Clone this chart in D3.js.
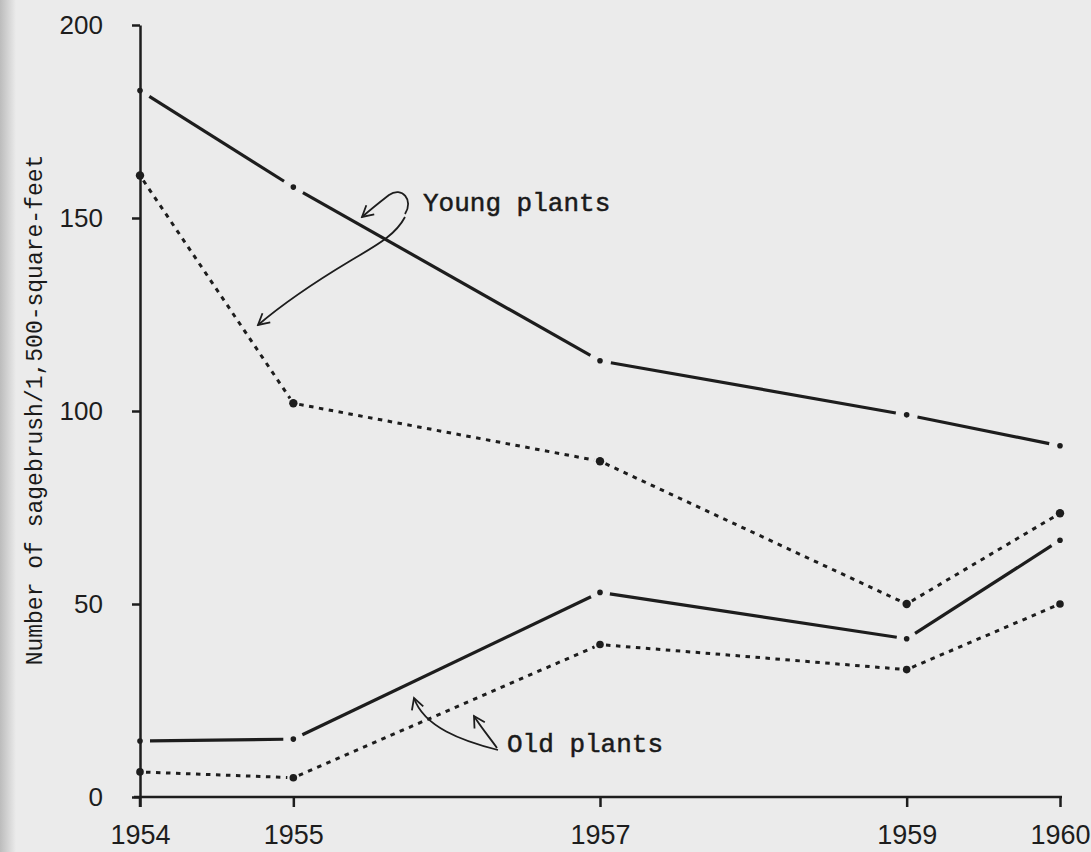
<!DOCTYPE html>
<html>
<head>
<meta charset="utf-8">
<script src="https://cdn.jsdelivr.net/npm/d3@7"></script>
<style>
  body { margin: 0; background: #ebebeb; }
  svg { display: block; }
  .axis path, .axis line { stroke: #1d1d1d; stroke-width: 2.5; }
  .axis text { font-family: "Liberation Sans", Arial, sans-serif; fill: #1d1d1d; }
  .note { font-family: "Liberation Mono", "DejaVu Sans Mono", monospace; fill: #1a1a1a; }
</style>
</head>
<body>
<div id="chart"></div>
<script>
// values (plants per 1,500 sq ft)
var years = [1954, 1955, 1957, 1959, 1960];
var youngSolid = [183, 158, 113, 99, 91];
var youngDotted = [161, 102, 87, 50, 73.5];
var oldSolid = [14.5, 15, 53, 41, 66.5];
var oldDotted = [6.5, 5, 39.5, 33, 50];
var yTicks = [0, 50, 100, 150, 200];
var yLabel = "Number of sagebrush/1,500-square-feet";

var width = 1091,
height = 852;

var svg = d3.select("#chart").append("svg")
  .attr("width", width)
  .attr("height", height);

// paper + darker scan edge on the left
var defs = svg.append("defs");
var grad = defs.append("linearGradient").attr("id", "edge");
grad.append("stop").attr("offset", "0%").attr("stop-color", "#bcbcbc");
grad.append("stop").attr("offset", "100%").attr("stop-color", "#ebebeb");
svg.append("rect").attr("width", width).attr("height", height).attr("fill", "#ebebeb");
svg.append("rect").attr("width", 16).attr("height", height).attr("fill", "url(#edge)");

var arrowHead = defs.append("marker")
  .attr("id", "head")
  .attr("viewBox", "-12 -8 14 16")
  .attr("markerWidth", 14)
  .attr("markerHeight", 16)
  .attr("markerUnits", "userSpaceOnUse")
  .attr("orient", "auto");
arrowHead.append("path")
  .attr("d", "M-11,-6 L0,0 L-11,6")
  .attr("fill", "none")
  .attr("stroke", "#1d1d1d")
  .attr("stroke-width", 1.8);

var x = d3.scaleLinear().domain([1954, 1960]).range([140, 1060]);
var y = d3.scaleLinear().domain([0, 200]).range([797, 25]);

// axes
svg.append("g")
  .attr("class", "axis")
  .attr("transform", "translate(" + x(1954) + ",0)")
  .call(d3.axisLeft(y).tickValues(yTicks).tickSize(8).tickSizeOuter(0).tickPadding(29))
  .call(function (g) {
    g.selectAll("text").style("font-size", "26px");
  });

svg.append("g")
  .attr("class", "axis")
  .attr("transform", "translate(0," + y(0) + ")")
  .call(d3.axisBottom(x).tickValues(years).tickFormat(d3.format("d")).tickSize(10).tickSizeOuter(0).tickPadding(18))
  .call(function (g) {
    g.select(".domain").attr("d", "M" + (x(1954) - 6) + ",0H" + (x(1960) + 2));
    g.selectAll("text").style("font-size", "27px");
  });

// y axis line runs a bit below the baseline
svg.append("line")
  .attr("x1", x(1954)).attr("x2", x(1954))
  .attr("y1", y(0)).attr("y2", y(0) + 10)
  .attr("stroke", "#1d1d1d").attr("stroke-width", 2.5);

svg.append("text")
  .attr("class", "note")
  .attr("transform", "translate(42,410) rotate(-90)")
  .attr("text-anchor", "middle")
  .style("font-size", "23px")
  .text(yLabel);

// series lines, drawn segment by segment with a gap at each plotted point
var series = [
  { values: youngSolid, dash: null, gap: 11, r: 2.8 },
  { values: youngDotted, dash: "4.5,5.5", gap: 6, r: 4.2 },
  { values: oldSolid, dash: null, gap: 10, r: 2.8 },
  { values: oldDotted, dash: "4.5,5.5", gap: 6, r: 3.8 }
];

function segments(vals, gap) {
  var out = [];
  for (var i = 0; i < vals.length - 1; i++) {
    var x1 = x(years[i]), y1 = y(vals[i]);
    var x2 = x(years[i + 1]), y2 = y(vals[i + 1]);
    var len = Math.sqrt((x2 - x1) * (x2 - x1) + (y2 - y1) * (y2 - y1));
    var ux = (x2 - x1) / len, uy = (y2 - y1) / len;
    out.push([x1 + ux * gap, y1 + uy * gap, x2 - ux * gap, y2 - uy * gap]);
  }
  return out;
}

series.forEach(function (s) {
  var g = svg.append("g");
  g.selectAll("line")
    .data(segments(s.values, s.gap))
    .enter()
    .append("line")
    .attr("x1", function (d) { return d[0]; })
    .attr("y1", function (d) { return d[1]; })
    .attr("x2", function (d) { return d[2]; })
    .attr("y2", function (d) { return d[3]; })
    .attr("stroke", "#1d1d1d")
    .attr("stroke-width", s.dash ? 3 : 3.2)
    .attr("stroke-dasharray", s.dash);

  g.selectAll("circle")
    .data(s.values)
    .enter()
    .append("circle")
    .attr("cx", function (d, i) { return x(years[i]); })
    .attr("cy", function (d) { return y(d); })
    .attr("r", s.r)
    .attr("fill", "#1d1d1d");
});

// hand-drawn call-outs
var notes = svg.append("g");

notes.append("text").attr("class", "note")
  .attr("x", 423).attr("y", 211)
  .style("font-size", "26px")
  .style("stroke", "#1a1a1a").style("stroke-width", 0.5)
  .text("Young plants");

notes.append("text").attr("class", "note")
  .attr("x", 507).attr("y", 752)
  .style("font-size", "26px")
  .style("stroke", "#1a1a1a").style("stroke-width", 0.5)
  .text("Old plants");

var callouts = [
  "M405,214 C414,200 402,186 389,195 C380,202 370,210 362,217",
  "M405,217 C395,236 375,246 350,261 C320,279 285,302 258,325",
  "M498,750 C462,741 424,727 414,698",
  "M497,748 C490,738 480,726 474,716"
];

notes.selectAll("path")
  .data(callouts)
  .enter()
  .append("path")
  .attr("d", function (d) { return d; })
  .attr("fill", "none")
  .attr("stroke", "#1d1d1d")
  .attr("stroke-width", 1.8)
  .attr("marker-end", "url(#head)");
</script>
</body>
</html>
